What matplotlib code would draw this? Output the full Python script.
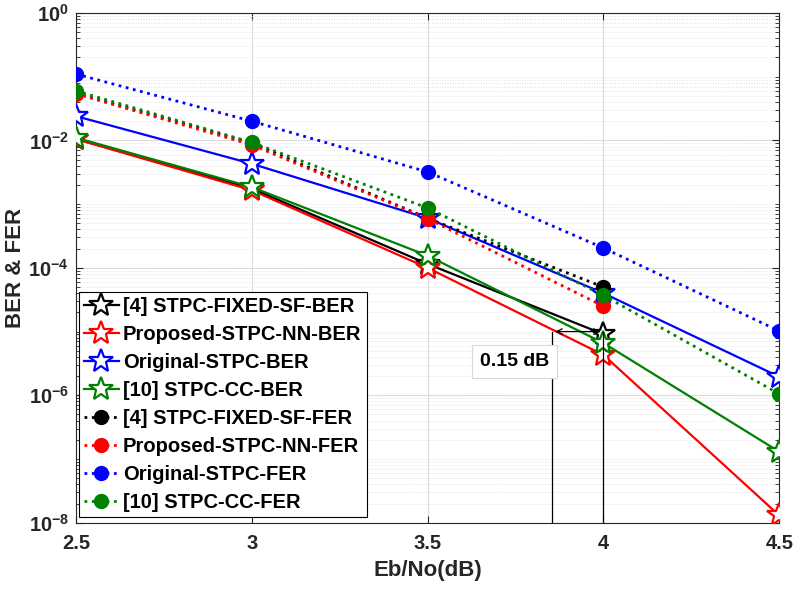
import numpy as np
import matplotlib
matplotlib.use('Agg')
import matplotlib.pyplot as plt
from matplotlib.ticker import LogLocator, NullFormatter, FixedLocator

ebno = [2.5, 3.0, 3.5, 4.0, 4.5]

fixed_ber = [1.05e-2, 1.75e-3, 1.15e-4, 9.1e-6]
nn_ber = [1.05e-2, 1.65e-3, 1.0e-4, 4.3e-6, 1.3e-8]
orig_ber = [2.4e-2, 4.3e-3, 6.0e-4, 4.0e-5, 1.95e-6]
cc_ber = [1.1e-2, 1.85e-3, 1.55e-4, 6.6e-6, 1.3e-7]

fixed_fer = [5.5e-2, 9.1e-3, 6.0e-4, 5.0e-5]
nn_fer = [5.4e-2, 8.5e-3, 5.9e-4, 2.5e-5]
orig_fer = [0.11, 2.0e-2, 3.2e-3, 2.05e-4, 1.02e-5]
cc_fer = [6.0e-2, 9.3e-3, 8.7e-4, 3.7e-5, 1.05e-6]

labels = ['[4] STPC-FIXED-SF-BER', 'Proposed-STPC-NN-BER', 'Original-STPC-BER', '[10] STPC-CC-BER',
          '[4] STPC-FIXED-SF-FER', 'Proposed-STPC-NN-FER', 'Original-STPC-FER', '[10] STPC-CC-FER']
colors = ['black', 'red', 'blue', '#008000']

# annotation: gap between curves at the same error rate
gap_x = [3.855, 4.0]
gap_y = 1.0e-5
gap_text = '0.15 dB'

plt.rcParams['font.family'] = ['Liberation Sans', 'DejaVu Sans']
plt.rcParams['font.weight'] = 'bold'
plt.rcParams['mathtext.fontset'] = 'custom'
plt.rcParams['mathtext.bf'] = 'Liberation Sans:bold'
plt.rcParams['mathtext.rm'] = 'Liberation Sans:bold'

fig = plt.figure(figsize=(7.95, 5.89), dpi=100)
ax = fig.add_axes([0.0956, 0.1125, 0.8846, 0.8655])

ber = [fixed_ber, nn_ber, orig_ber, cc_ber]
fer = [fixed_fer, nn_fer, orig_fer, cc_fer]
for i, s in enumerate(ber):
    ax.semilogy(ebno[:len(s)], s, '-', color=colors[i], lw=1.6, marker='*', ms=18,
                mfc='white', mec=colors[i], mew=1.6, label=labels[i], zorder=3)
for i, s in enumerate(fer):
    ax.semilogy(ebno[:len(s)], s, ':', color=colors[i], lw=2, marker='o', ms=10,
                mfc=colors[i], mec=colors[i], label=labels[i + 4], zorder=3)

# gap annotation
ax.annotate('', xy=(gap_x[0], gap_y), xytext=(gap_x[1], gap_y),
            arrowprops=dict(arrowstyle='<->', color='black', lw=0.9, mutation_scale=10), zorder=4)
for gx in gap_x:
    ax.plot([gx, gx], [gap_y, 1e-8], color='black', lw=0.9, zorder=4)
ax.text(3.748, 3.4e-6, gap_text, fontsize=14, ha='center', va='center', zorder=5,
        bbox=dict(boxstyle='square,pad=0.4', fc='white', ec='#d9d9d9', lw=0.8))

ax.set_xlim(2.5, 4.5)
ax.set_ylim(1e-8, 1)
ax.set_xticks(ebno)
ax.set_xticklabels(['2.5', '3', '3.5', '4', '4.5'])
ax.yaxis.set_major_locator(FixedLocator([1e-8, 1e-6, 1e-4, 1e-2, 1]))
ax.yaxis.set_minor_locator(LogLocator(base=10, subs=np.arange(1, 10), numticks=30))
ax.yaxis.set_minor_formatter(NullFormatter())
ax.set_yticklabels([r'$\mathbf{10^{-8}}$', r'$\mathbf{10^{-6}}$', r'$\mathbf{10^{-4}}$',
                    r'$\mathbf{10^{-2}}$', r'$\mathbf{10^{0}}$'])

ax.grid(True, which='major', color='#dcdcdc', lw=0.8, ls='-')
ax.grid(True, which='minor', axis='y', color='#e3e3e3', lw=0.7, ls=':')
ax.set_axisbelow(True)
ax.tick_params(which='both', direction='in', top=True, right=True, labelsize=14.5,
               labelcolor='#262626', color='#262626')
ax.tick_params(axis='x', which='major', length=5, pad=8)
ax.tick_params(axis='y', which='major', length=5, pad=5)
ax.tick_params(which='minor', length=3)
for sp in ax.spines.values():
    sp.set_color('#262626')
    sp.set_linewidth(0.8)

ax.set_xlabel('Eb/No(dB)', fontsize=16, fontweight='bold', color='#262626', labelpad=5)
ax.set_ylabel('BER & FER', fontsize=16, fontweight='bold', color='#262626', labelpad=2)

leg = ax.legend(loc='upper left', bbox_to_anchor=(0.004, 0.453), fontsize=14.5,
                frameon=True, fancybox=False, edgecolor='black', framealpha=1,
                handlelength=1.75, handletextpad=0.2, borderpad=0.25, labelspacing=0.45,
                borderaxespad=0)
leg.get_frame().set_linewidth(0.8)

fig.savefig('out.png', dpi=100)
